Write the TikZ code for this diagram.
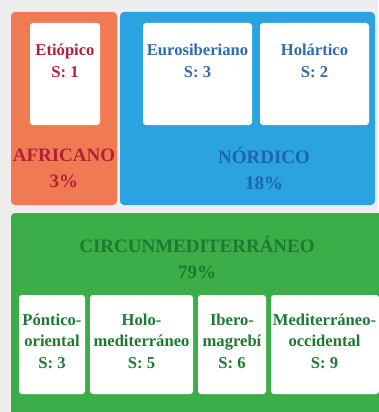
\documentclass[tikz,border=0pt]{standalone}
\usepackage{fontspec}
\setmainfont{Liberation Serif}

\definecolor{fondo}{HTML}{EEEEEE}
\definecolor{naranja}{HTML}{F07A52}
\definecolor{azul}{HTML}{2AA3E0}
\definecolor{verde}{HTML}{3BAE48}
\definecolor{rojo}{HTML}{B3203A}
\definecolor{azultexto}{HTML}{2F6CB2}
\definecolor{azuloscuro}{HTML}{1F65A8}
\definecolor{verdeoscuro}{HTML}{1C7A33}

\tikzset{
  region/.style={rounded corners=4pt},
  tarjeta/.style={fill=white, rounded corners=3pt},
  etiqueta/.style={font=\fontsize{19}{26}\selectfont\bfseries, align=center},
  dato/.style={font=\fontsize{16.6}{21.5}\selectfont\bfseries, align=center},
}

\begin{document}
\begin{tikzpicture}[x=1pt,y=-1pt]
        % Background
        \fill[fondo] (0,0) rectangle (378,412);
        \useasboundingbox (0,0) rectangle (378,412);

        % African block
        \fill[naranja, region] (11,12) rectangle (117,205);
        \fill[tarjeta] (30,23) rectangle (100,125);
        \node[dato, text=rojo] (etiopico) at (65,61) {Etiópico\\S: 1};
        \node[etiqueta, text=rojo] (africano) at (64,168) {AFRICANO\\3\%};

        % Northern block
        \fill[azul, region] (120,12) rectangle (375,205);
        \fill[tarjeta] (143,23) rectangle (252,125);
        \fill[tarjeta] (260,23) rectangle (369,125);
        \node[dato, text=azultexto] (eurosib) at (197.5,61) {Eurosiberiano\\S: 3};
        \node[dato, text=azultexto] (holartico) at (314.5,61) {Holártico\\S: 2};
        \node[etiqueta, text=azuloscuro] (nordico) at (264,168) {NÓRDICO\\18\%};

        % Circum-Mediterranean block
        \fill[verde, region] (11,213) rectangle (392,424);
        \node[etiqueta, text=verdeoscuro] (circun) at (197,257) {CIRCUNMEDITERRÁNEO\\79\%};
        \fill[tarjeta] (19,295) rectangle (85,394);
        \fill[tarjeta] (90,295) rectangle (193,394);
        \fill[tarjeta] (198,295) rectangle (266,394);
        \fill[tarjeta] (271,295) rectangle (379,394);
        \node[dato, text=verdeoscuro] (pontico) at (52,341) {Póntico-\\oriental\\S: 3};
        \node[dato, text=verdeoscuro] (holomed) at (141.5,341) {Holo-\\mediterráneo\\S: 5};
        \node[dato, text=verdeoscuro] (iberomag) at (232,341) {Ibero-\\magrebí\\S: 6};
        \node[dato, text=verdeoscuro] (medocc) at (324.5,341) {Mediterráneo-\\occidental\\S: 9};
\end{tikzpicture}
\end{document}
